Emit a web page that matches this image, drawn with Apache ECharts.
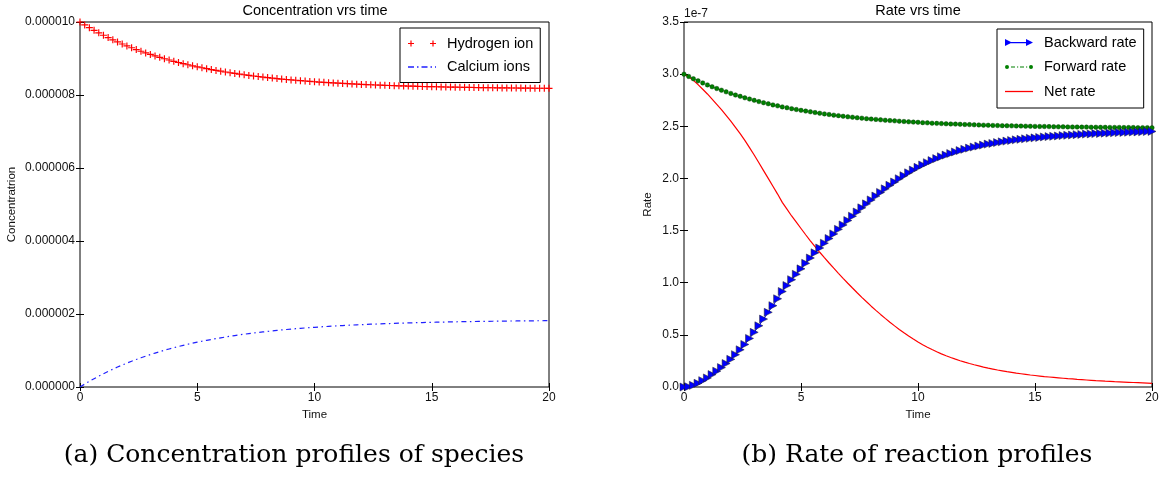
<!DOCTYPE html>
<html>
<head>
<meta charset="utf-8">
<script src="https://cdn.jsdelivr.net/npm/echarts@6/dist/echarts.min.js"></script>
<style>
  html, body { margin: 0; padding: 0; background: #fff; }
  #main { width: 1164px; height: 486px; }
</style>
</head>
<body>
<div id="main"></div>
<script>
// time axis (0 .. 20, step 0.2)
var time = [0,0.2,0.4,0.6,0.8,1,1.2,1.4,1.6,1.8,2,2.2,2.4,2.6,2.8,3,3.2,3.4,3.6,3.8,
  4,4.2,4.4,4.6,4.8,5,5.2,5.4,5.6,5.8,6,6.2,6.4,6.6,6.8,7,7.2,7.4,7.6,7.8,
  8,8.2,8.4,8.6,8.8,9,9.2,9.4,9.6,9.8,10,10.2,10.4,10.6,10.8,11,11.2,11.4,11.6,11.8,
  12,12.2,12.4,12.6,12.8,13,13.2,13.4,13.6,13.8,14,14.2,14.4,14.6,14.8,15,15.2,15.4,15.6,15.8,
  16,16.2,16.4,16.6,16.8,17,17.2,17.4,17.6,17.8,18,18.2,18.4,18.6,18.8,19,19.2,19.4,19.6,19.8,20];

// concentrations, in units of 1e-6
var hydrogen = [10.000,9.921,9.845,9.772,9.703,9.637,9.573,9.512,9.454,9.398,
  9.345,9.294,9.245,9.198,9.154,9.111,9.070,9.031,8.993,8.958,
  8.923,8.890,8.859,8.829,8.800,8.772,8.746,8.721,8.697,8.674,
  8.652,8.630,8.610,8.591,8.572,8.554,8.537,8.521,8.506,8.491,
  8.477,8.463,8.450,8.437,8.425,8.414,8.403,8.393,8.383,8.373,
  8.364,8.355,8.347,8.339,8.331,8.324,8.317,8.310,8.303,8.297,
  8.291,8.286,8.280,8.275,8.270,8.265,8.261,8.256,8.252,8.248,
  8.245,8.241,8.237,8.234,8.231,8.228,8.225,8.222,8.219,8.217,
  8.214,8.212,8.210,8.208,8.206,8.204,8.202,8.200,8.198,8.197,
  8.195,8.194,8.192,8.191,8.189,8.188,8.187,8.186,8.185,8.184,8.183];
var calcium = [0,0.079,0.155,0.228,0.297,0.363,0.427,0.488,0.546,0.602,
  0.655,0.706,0.755,0.802,0.846,0.889,0.930,0.969,1.007,1.042,
  1.077,1.110,1.141,1.171,1.200,1.228,1.254,1.279,1.303,1.326,
  1.348,1.370,1.390,1.409,1.428,1.446,1.463,1.479,1.494,1.509,
  1.523,1.537,1.550,1.563,1.575,1.586,1.597,1.607,1.617,1.627,
  1.636,1.645,1.653,1.661,1.669,1.676,1.683,1.690,1.697,1.703,
  1.709,1.714,1.720,1.725,1.730,1.735,1.739,1.744,1.748,1.752,
  1.755,1.759,1.763,1.766,1.769,1.772,1.775,1.778,1.781,1.783,
  1.786,1.788,1.790,1.792,1.794,1.796,1.798,1.800,1.802,1.803,
  1.805,1.806,1.808,1.809,1.811,1.812,1.813,1.814,1.815,1.816,1.817];

// rates, in units of 1e-7
var backward = [0,0.003,0.016,0.036,0.061,0.087,0.119,0.152,0.186,0.225,
  0.265,0.310,0.357,0.408,0.466,0.524,0.587,0.651,0.716,0.780,
  0.846,0.916,0.973,1.029,1.081,1.133,1.186,1.237,1.287,1.333,
  1.379,1.424,1.468,1.512,1.554,1.596,1.638,1.678,1.718,1.756,
  1.794,1.831,1.866,1.900,1.934,1.966,1.997,2.026,2.054,2.080,
  2.106,2.129,2.151,2.171,2.190,2.208,2.224,2.239,2.254,2.267,
  2.279,2.291,2.301,2.311,2.320,2.329,2.336,2.344,2.351,2.358,
  2.364,2.370,2.375,2.380,2.385,2.389,2.393,2.398,2.401,2.404,
  2.407,2.411,2.414,2.416,2.420,2.422,2.425,2.427,2.430,2.431,
  2.434,2.435,2.438,2.440,2.441,2.443,2.445,2.446,2.448,2.450,2.451];
var forward = [3.000,2.978,2.956,2.936,2.916,2.897,2.879,2.862,2.846,2.830,
  2.815,2.800,2.787,2.773,2.761,2.749,2.737,2.726,2.716,2.705,
  2.696,2.686,2.678,2.669,2.661,2.653,2.646,2.639,2.632,2.625,
  2.619,2.613,2.607,2.602,2.596,2.591,2.587,2.582,2.578,2.573,
  2.569,2.566,2.562,2.558,2.555,2.552,2.549,2.546,2.543,2.540,
  2.538,2.535,2.533,2.530,2.528,2.526,2.524,2.522,2.521,2.519,
  2.517,2.516,2.514,2.513,2.511,2.510,2.508,2.507,2.506,2.505,
  2.504,2.503,2.502,2.501,2.500,2.499,2.498,2.498,2.497,2.496,
  2.495,2.495,2.494,2.493,2.493,2.492,2.492,2.491,2.491,2.490,
  2.490,2.489,2.489,2.489,2.488,2.488,2.488,2.487,2.487,2.487,2.486];
var net = [3.000,2.975,2.940,2.900,2.855,2.810,2.760,2.710,2.660,2.605,
  2.550,2.490,2.430,2.365,2.295,2.225,2.150,2.075,2.000,1.925,
  1.850,1.770,1.705,1.640,1.580,1.520,1.460,1.402,1.345,1.292,
  1.240,1.189,1.139,1.090,1.042,0.995,0.949,0.904,0.860,0.817,
  0.775,0.735,0.696,0.658,0.621,0.586,0.552,0.520,0.489,0.460,
  0.432,0.406,0.382,0.359,0.338,0.318,0.300,0.283,0.267,0.252,
  0.238,0.225,0.213,0.202,0.191,0.181,0.172,0.163,0.155,0.147,
  0.140,0.133,0.127,0.121,0.115,0.110,0.105,0.100,0.096,0.092,
  0.088,0.084,0.080,0.077,0.073,0.070,0.067,0.064,0.061,0.059,
  0.056,0.054,0.051,0.049,0.047,0.045,0.043,0.041,0.039,0.037,0.035];

function pairs(ys) {
  return time.map(function (t, i) { return [t, ys[i]]; });
}

var plusMark = 'path://M2.5,0h1v6h-1zM0,2.5h6v1h-6z';
var iconPlus = 'path://M2.4,0h1.2v6h-1.2zM0,2.4h6v1.2h-6zM24.4,0h1.2v6h-1.2zM22,2.4h6v1.2h-6z';
var iconDashDot = 'path://M0,0h6v1.3h-6zM9,0h1.5v1.3h-1.5zM13.5,0h6v1.3h-6zM22.5,0h1.5v1.3h-1.5zM27,0h1v1.3h-1z';
var iconTri = 'path://M0,0L7,3.5L0,7zM5,3h17v1.2h-17zM21,0L28,3.5L21,7z';
var iconDots = 'path://M0,3a2,2 0 1,0 4,0a2,2 0 1,0 -4,0zM6,2.4h4v1.2h-4zM12,2.4h1.2v1.2h-1.2zM15,2.4h4v1.2h-4zM21,2.4h1.2v1.2h-1.2zM24,3a2,2 0 1,0 4,0a2,2 0 1,0 -4,0z';
var iconLine = 'path://M0,0h28v1.3h-28z';

var myChart = echarts.init(document.getElementById('main'));

var tickLbl = { fontSize: 12, color: '#111', fontFamily: 'Liberation Sans' };
var nameStyle = { fontSize: 11.5, color: '#111', fontFamily: 'Liberation Sans' };
var capStyle = { fontSize: 25, fontWeight: 'normal', color: '#000', fontFamily: 'DejaVu Serif' };

function xAxes(grid) {
  return [{
    type: 'value', gridIndex: grid, min: 0, max: 20, interval: 5, position: 'bottom',
    name: 'Time', nameLocation: 'middle', nameGap: 20, nameTextStyle: nameStyle,
    axisLine: { show: false }, axisTick: { inside: true, length: 4, lineStyle: { color: '#000' } },
    axisLabel: Object.assign({ margin: 5 }, tickLbl), splitLine: { show: false }
  }, {
    type: 'value', gridIndex: grid, min: 0, max: 20, interval: 5, position: 'top',
    axisLine: { show: false }, axisTick: { inside: true, length: 4, lineStyle: { color: '#000' } },
    axisLabel: { show: false }, splitLine: { show: false }
  }];
}

var xs = xAxes(0).concat(xAxes(1));

var option = {
  animation: false,
  textStyle: { fontFamily: 'Liberation Sans' },
  title: [
    { text: 'Concentration vrs time', left: 315, top: 3, padding: 0, textAlign: 'center',
      textStyle: { fontSize: 14.5, fontWeight: 'normal', color: '#000' } },
    { text: 'Rate vrs time', left: 918, top: 3, padding: 0, textAlign: 'center',
      textStyle: { fontSize: 14.5, fontWeight: 'normal', color: '#000' } },
    { text: '1e-7', left: 684, top: 8, padding: 0,
      textStyle: { fontSize: 12, fontWeight: 'normal', color: '#111' } },
    { text: '(a) Concentration profiles of species', left: 294, top: 443, padding: 0, textAlign: 'center',
      textStyle: capStyle },
    { text: '(b) Rate of reaction profiles', left: 917, top: 443, padding: 0, textAlign: 'center',
      textStyle: capStyle }
  ],
  grid: [
    { left: 80, top: 22, width: 469, height: 365, show: true, borderColor: '#000', borderWidth: 1 },
    { left: 684, top: 22, width: 468, height: 365, show: true, borderColor: '#000', borderWidth: 1 }
  ],
  legend: [{
    orient: 'vertical', left: 400, top: 28, padding: [8, 7, 8, 8], itemGap: 8.5,
    itemWidth: 28, itemHeight: 12, borderColor: '#000', borderWidth: 1, borderRadius: 0,
    backgroundColor: '#fff', selectedMode: false,
    textStyle: { fontSize: 14.5, color: '#000', padding: [0, 0, 0, 6] },
    data: [{ name: 'Hydrogen ion', icon: iconPlus }, { name: 'Calcium ions', icon: iconDashDot }]
  }, {
    orient: 'vertical', left: 997, top: 29, padding: [6, 7, 9, 8], itemGap: 9.5,
    itemWidth: 28, itemHeight: 12, borderColor: '#000', borderWidth: 1, borderRadius: 0,
    backgroundColor: '#fff', selectedMode: false,
    textStyle: { fontSize: 14.5, color: '#000', padding: [0, 0, 0, 6] },
    data: [
      { name: 'Backward rate', icon: iconTri, itemStyle: { color: '#0000ff', borderWidth: 0 } },
      { name: 'Forward rate', icon: iconDots, itemStyle: { color: '#008000', borderWidth: 0 } },
      { name: 'Net rate', icon: iconLine, itemStyle: { color: '#ff0000', borderWidth: 0 } }
    ]
  }],
  xAxis: xs,
  yAxis: [{
    type: 'value', gridIndex: 0, min: 0, max: 10, interval: 2, position: 'left',
    name: 'Concentratrion', nameLocation: 'middle', nameGap: 62, nameTextStyle: nameStyle,
    axisLine: { show: false }, axisTick: { inside: true, length: 4, lineStyle: { color: '#000' } },
    axisLabel: Object.assign({ margin: 5, formatter: function (v) { return (v / 1e6).toFixed(6); } }, tickLbl),
    splitLine: { show: false }
  }, {
    type: 'value', gridIndex: 0, min: 0, max: 10, interval: 2, position: 'right',
    axisLine: { show: false }, axisTick: { inside: true, length: 4, lineStyle: { color: '#000' } },
    axisLabel: { show: false }, splitLine: { show: false }
  }, {
    type: 'value', gridIndex: 1, min: 0, max: 3.5, interval: 0.5, position: 'left',
    name: 'Rate', nameLocation: 'middle', nameGap: 30, nameTextStyle: nameStyle,
    axisLine: { show: false }, axisTick: { inside: true, length: 4, lineStyle: { color: '#000' } },
    axisLabel: Object.assign({ margin: 5, formatter: function (v) { return v.toFixed(1); } }, tickLbl),
    splitLine: { show: false }
  }, {
    type: 'value', gridIndex: 1, min: 0, max: 3.5, interval: 0.5, position: 'right',
    axisLine: { show: false }, axisTick: { inside: true, length: 4, lineStyle: { color: '#000' } },
    axisLabel: { show: false }, splitLine: { show: false }
  }],
  series: [
    {
      name: 'Hydrogen ion', type: 'line', xAxisIndex: 0, yAxisIndex: 0,
      data: pairs(hydrogen), showAllSymbol: true, symbol: plusMark, symbolSize: 7,
      itemStyle: { color: '#ff0000' }, lineStyle: { opacity: 0 }, silent: true
    },
    {
      name: 'Calcium ions', type: 'line', xAxisIndex: 0, yAxisIndex: 0,
      data: pairs(calcium), showSymbol: false,
      itemStyle: { color: '#2020ff' }, lineStyle: { color: '#2020ff', width: 1.2, type: [5, 3.5, 1.5, 3.5] }, silent: true
    },
    {
      name: 'Forward rate', type: 'line', xAxisIndex: 2, yAxisIndex: 2,
      data: pairs(forward), showAllSymbol: true, symbol: 'circle', symbolSize: 4.5,
      itemStyle: { color: '#008000', borderColor: '#003300', borderWidth: 0.4 },
      lineStyle: { color: '#008000', width: 1, type: [5, 3, 1.5, 3] }, silent: true
    },
    {
      name: 'Backward rate', type: 'line', xAxisIndex: 2, yAxisIndex: 2,
      data: pairs(backward), showAllSymbol: true, symbol: 'triangle', symbolRotate: -90, symbolSize: 8,
      itemStyle: { color: '#0000ff', borderColor: '#222', borderWidth: 0.5 },
      lineStyle: { color: '#0000ff', width: 1 }, silent: true
    },
    {
      name: 'Net rate', type: 'line', xAxisIndex: 2, yAxisIndex: 2,
      data: pairs(net), showSymbol: false,
      itemStyle: { color: '#ff0000' }, lineStyle: { color: '#ff0000', width: 1.2 }, silent: true
    }
  ]
};

myChart.setOption(option);
</script>
</body>
</html>
